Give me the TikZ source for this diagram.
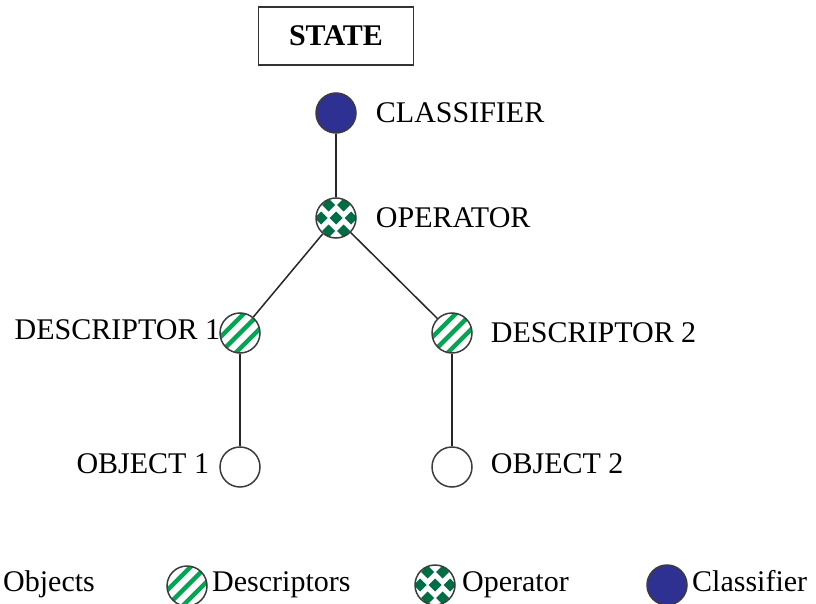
\documentclass[tikz,border=0pt]{standalone}
\usepackage{fontspec}
\setmainfont{Liberation Serif}
\usepackage{tikz}
\usetikzlibrary{positioning}

\definecolor{descgreen}{RGB}{0,166,81}
\definecolor{opgreen}{RGB}{0,110,68}
\definecolor{clsblue}{RGB}{46,49,146}
\definecolor{rimgray}{RGB}{60,60,60}

\begin{document}
\begin{tikzpicture}[x=1pt, y=-1pt,
  font=\fontsize{30}{36}\selectfont,
  dot/.style={circle, draw=rimgray, line width=1.5pt, minimum size=40pt, inner sep=0pt},
  obj/.style={dot, fill=white},
  cls/.style={dot, fill=clsblue},
  desc/.style={dot, path picture={
    \foreach \k in {-4,...,4}
      \draw[descgreen, line width=4.5pt] ([shift={(\k*15.5-30,30)}]path picture bounding box.center) -- ++(60,-60);
  }},
  oper/.style={dot, path picture={
    \foreach \j in {-2,...,2}
      \foreach \i in {-2,...,2} {
        \pgfmathsetmacro\xx{\i*15+mod(abs(\j),2)*7.5}
        \fill[opgreen] ([shift={(\xx,\j*13)}]path picture bounding box.center)
          +(-6.5,0) -- +(0,-6.5) -- +(6.5,0) -- +(0,6.5) -- cycle;
      }
  }},
  lbl/.style={inner sep=0pt},
  link/.style={draw=black!85, line width=1.5pt}
]
\useasboundingbox (0,0) rectangle (816,604);

% Define nodes
% Top box
\node[draw=black!80, line width=1.5pt, minimum width=155pt, minimum height=58pt, inner sep=0pt, font=\fontsize{30}{36}\selectfont\bfseries] (state) at (336,36) {STATE};

% Tree nodes
\node[cls] (classifier) at (336,113) {};
\node[oper] (operator) at (336,218) {};
\node[desc] (desc1) at (240,333) {};
\node[desc] (desc2) at (452,333) {};
\node[obj] (obj1) at (240,467) {};
\node[obj] (obj2) at (452,467) {};

% Labels
\node[lbl, right=19pt of classifier] (classifierlbl) {CLASSIFIER};
\node[lbl, right=19pt of operator] (operatorlbl) {OPERATOR};
\node[lbl, left=-1pt of desc1, yshift=3pt] (desc1lbl) {DESCRIPTOR 1};
\node[lbl, right=18pt of desc2] (desc2lbl) {DESCRIPTOR 2};
\node[lbl, left=10pt of obj1, yshift=3pt] (obj1lbl) {OBJECT 1};
\node[lbl, right=18pt of obj2, yshift=3pt] (obj2lbl) {OBJECT 2};

% Edges
\draw[link] (classifier) -- (operator);
\draw[link] (operator) -- (desc1);
\draw[link] (operator) -- (desc2);
\draw[link] (desc1) -- (obj1);
\draw[link] (desc2) -- (obj2);

% Legend
\node[lbl, anchor=base west] (legobj) at (3,591) {Objects};
\node[desc] (legdesc) at (187,586) {};
\node[lbl, anchor=base west] (legdesclbl) at (212,591) {Descriptors};
\node[oper] (legop) at (435,585) {};
\node[lbl, anchor=base west] (legoplbl) at (462,591) {Operator};
\node[cls] (legcls) at (667,585) {};
\node[lbl, anchor=base west] (legclslbl) at (692,591) {Classifier};
\end{tikzpicture}
\end{document}
